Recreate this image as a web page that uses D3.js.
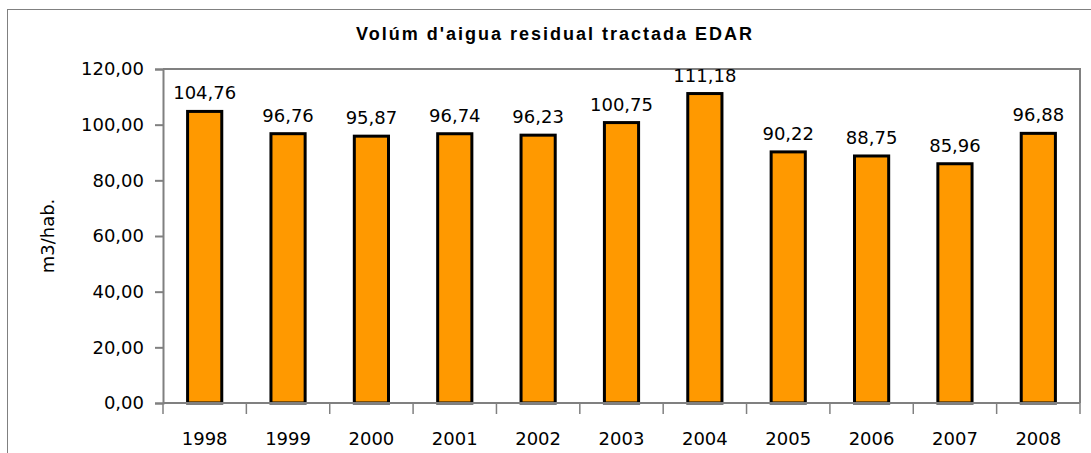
<!DOCTYPE html>
<html>
<head>
<meta charset="utf-8">
<script src="https://cdn.jsdelivr.net/npm/d3@7"></script>
<style>
  body { margin: 0; background: #fff; }
  text { font-family: "DejaVu Sans", Arial, sans-serif; }
</style>
</head>
<body>
<div id="chart"></div>
<script>
// data
const years = ['1998', '1999', '2000', '2001', '2002', '2003', '2004', '2005', '2006', '2007', '2008'];
const volumes = [104.76, 96.76, 95.87, 96.74, 96.23, 100.75, 111.18, 90.22, 88.75, 85.96, 96.88];
const yTicks = [0, 20, 40, 60, 80, 100, 120];

const W = 1091, H = 453;
const plot = { left: 163, top: 69, right: 1080, bottom: 403 };
const numFont = '"DejaVu Sans", Arial, sans-serif';

const svg = d3.select('#chart').append('svg')
  .attr('width', W)
  .attr('height', H);

// outer chart frame
svg.append('rect')
  .attr('x', 7.5).attr('y', 9.5)
  .attr('width', 1100).attr('height', 460)
  .attr('fill', 'none')
  .attr('stroke', '#808080')
  .attr('stroke-width', 1);

const x = d3.scaleBand()
  .domain(years)
  .range([plot.left, plot.right])
  .paddingInner(0.59)
  .paddingOuter(0.295);

const xCat = d3.scaleBand()
  .domain(years)
  .range([plot.left, plot.right]);

const y = d3.scaleLinear()
  .domain([0, 120])
  .range([plot.bottom, plot.top]);

// plot area border (top + right)
svg.append('path')
  .attr('d', `M${plot.left},${plot.top}H${plot.right}V${plot.bottom}`)
  .attr('fill', 'none')
  .attr('stroke', '#808080')
  .attr('stroke-width', 2);

// bars
svg.append('g').selectAll('rect')
  .data(volumes)
  .join('rect')
  .attr('x', (d, i) => x(years[i]))
  .attr('y', d => y(d))
  .attr('width', x.bandwidth())
  .attr('height', d => y(0) - y(d))
  .attr('fill', '#FF9900')
  .attr('stroke', '#000')
  .attr('stroke-width', 3);

// value labels
const fmt = v => v.toFixed(2).replace('.', ',');
svg.append('g').selectAll('text')
  .data(volumes)
  .join('text')
  .attr('x', (d, i) => x(years[i]) + x.bandwidth() / 2)
  .attr('y', d => y(d) - 12)
  .attr('text-anchor', 'middle')
  .attr('font-size', 18)
  .attr('fill', '#000')
  .text(fmt);

// y axis
const yAxis = d3.axisLeft(y)
  .tickValues(yTicks)
  .tickSize(8)
  .tickPadding(11)
  .tickFormat(fmt);
const gy = svg.append('g')
  .attr('transform', `translate(${plot.left},0)`)
  .call(yAxis);
gy.select('.domain').attr('stroke', '#808080').attr('stroke-width', 2);
gy.selectAll('.tick line').attr('stroke', '#808080').attr('stroke-width', 2);
gy.selectAll('.tick text').attr('font-size', 18).attr('fill', '#000')
  .style('font-family', numFont);

// x axis: ticks at category boundaries
const gx = svg.append('g')
  .attr('transform', `translate(0,${plot.bottom})`);
gx.append('line')
  .attr('x1', plot.left).attr('x2', plot.right)
  .attr('stroke', '#808080').attr('stroke-width', 2);
gx.selectAll('line.tk')
  .data(years.concat(['end']))
  .join('line')
  .attr('class', 'tk')
  .attr('x1', (d, i) => i < years.length ? xCat(d) : plot.right)
  .attr('x2', (d, i) => i < years.length ? xCat(d) : plot.right)
  .attr('y1', 0).attr('y2', 11)
  .attr('stroke', '#808080').attr('stroke-width', 1.5);
gx.selectAll('text')
  .data(years)
  .join('text')
  .attr('x', d => xCat(d) + xCat.bandwidth() / 2)
  .attr('y', 42)
  .attr('text-anchor', 'middle')
  .attr('font-size', 18)
  .attr('fill', '#000')
  .text(d => d);

// title
svg.append('text')
  .attr('x', 555)
  .attr('y', 40)
  .attr('text-anchor', 'middle')
  .attr('font-size', 18)
  .attr('font-weight', 'bold')
  .attr('letter-spacing', 2)
  .style('font-family', 'Arial, "Liberation Sans", sans-serif')
  .text("Volúm d'aigua residual tractada EDAR");

// y axis label
svg.append('text')
  .attr('transform', `translate(54,${(plot.top + plot.bottom) / 2}) rotate(-90)`)
  .attr('text-anchor', 'middle')
  .attr('font-size', 18)
  .text('m3/hab.');
</script>
</body>
</html>
